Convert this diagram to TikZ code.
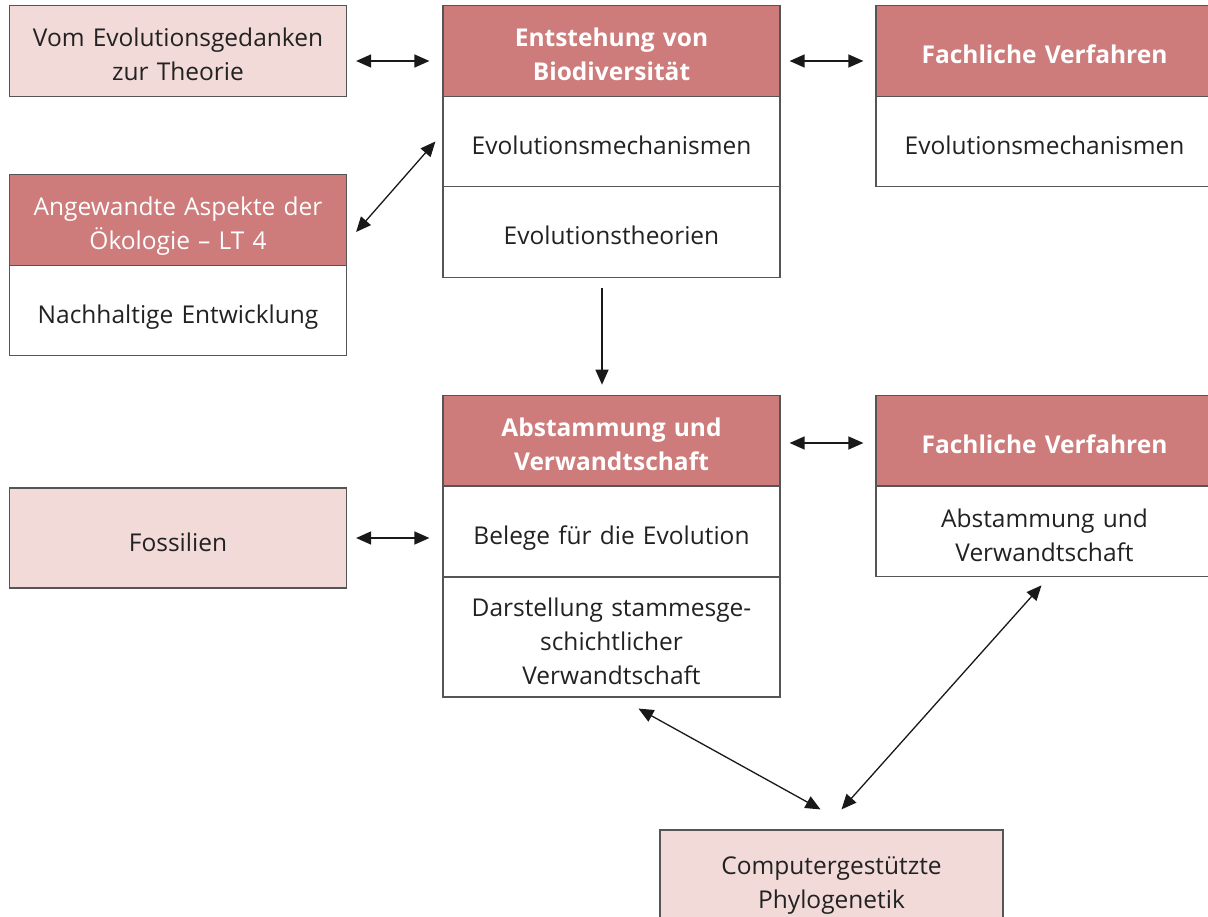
\documentclass[tikz,border=0pt]{standalone}
\usepackage{fontspec}
\setmainfont{Open Sans}
\usetikzlibrary{arrows.meta,calc}
\definecolor{hdr}{HTML}{CD7B7B}
\definecolor{lite}{HTML}{F2DAD8}
\definecolor{frame}{HTML}{555555}
\definecolor{ink}{HTML}{222222}
\begin{document}
\begin{tikzpicture}[x=1pt,y=-1pt,
 cell/.style={draw=frame, line width=1.2pt, minimum width=337pt, minimum height=90.5pt, inner sep=0pt, align=center, text width=330pt, font=\fontsize{24.5}{34}\selectfont, text=ink, fill=white, execute at begin node={\rule{0pt}{33pt}}, execute at end node={\rule[-7pt]{0pt}{7pt}}},
 hcell/.style={cell, fill=hdr, text=white, font=\fontsize{24.5}{34}\selectfont\bfseries},
 hcellr/.style={cell, fill=hdr, text=white},
 pcell/.style={cell, fill=lite},
 link/.style={line width=1.3pt, black!90, {Triangle[length=15pt,width=13pt]}-{Triangle[length=15pt,width=13pt]}},
 onelink/.style={line width=1.3pt, black!90, -{Triangle[length=15pt,width=13pt]}},
]
\path[use as bounding box, clip] (0,0) rectangle (1208,917);
\fill[white] (0,0) rectangle (1208,917);
% left column
\node[pcell] (A) at (178,51) {Vom Evolutionsgedanken\\zur Theorie};
\node[hcellr] (L2h) at (178,220) {Angewandte Aspekte der\\Ökologie – LT 4};
\node[cell] (L2a) at (178,310.5) {Nachhaltige Entwicklung};
\node[pcell, minimum height=100pt] (Fos) at (178,538) {Fossilien};
% centre column
\node[hcell] (C1h) at (611.5,51) {Entstehung von\\Biodiversität};
\node[cell] (C1a) at (611.5,141.5) {Evolutionsmechanismen};
\node[cell] (C1b) at (611.5,232) {Evolutionstheorien};
\node[hcell] (C2h) at (611.5,440.5) {Abstammung und\\Verwandtschaft};
\node[cell] (C2a) at (611.5,531.5) {Belege für die Evolution};
\node[cell, minimum height=120pt] (C2b) at (611.5,637) {Darstellung stammesge-\\schichtlicher\\Verwandtschaft};
% right column
\node[hcell] (R1h) at (1044.5,51) {Fachliche Verfahren};
\node[cell] (R1a) at (1044.5,141.5) {Evolutionsmechanismen};
\node[hcell] (R2h) at (1044.5,440.5) {Fachliche Verfahren};
\node[cell] (R2a) at (1044.5,531.5) {Abstammung und\\Verwandtschaft};
% bottom
\node[pcell, minimum width=343pt, minimum height=96pt] (Comp) at (831.5,878) {Computergestützte\\Phylogenetik};
% connectors
\draw[link] ($(A.east)+(9,10)$) -- ($(C1h.west)+(-13,10)$);
\draw[link] ($(C1h.east)+(9,10)$) -- ($(R1h.west)+(-12,10)$);
\draw[link] ($(L2h.east)+(9,12)$) -- ($(C1a.west)+(-7,0)$);
\draw[onelink] ($(C1b.south)+(-9.5,10)$) -- ($(C2h.north)+(-9.5,-10)$);
\draw[link] ($(C2h.east)+(9,2.5)$) -- ($(R2h.west)+(-12,2.5)$);
\draw[link] ($(Fos.east)+(9,0)$) -- ($(C2a.west)+(-13,6.5)$);
\draw[link] ($(C2b.south)+(27,11)$) -- ($(Comp.north)+(-11,-20)$);
\draw[link] ($(R2a.south)+(-3,8)$) -- ($(Comp.north)+(10,-20)$);
\end{tikzpicture}
\end{document}
